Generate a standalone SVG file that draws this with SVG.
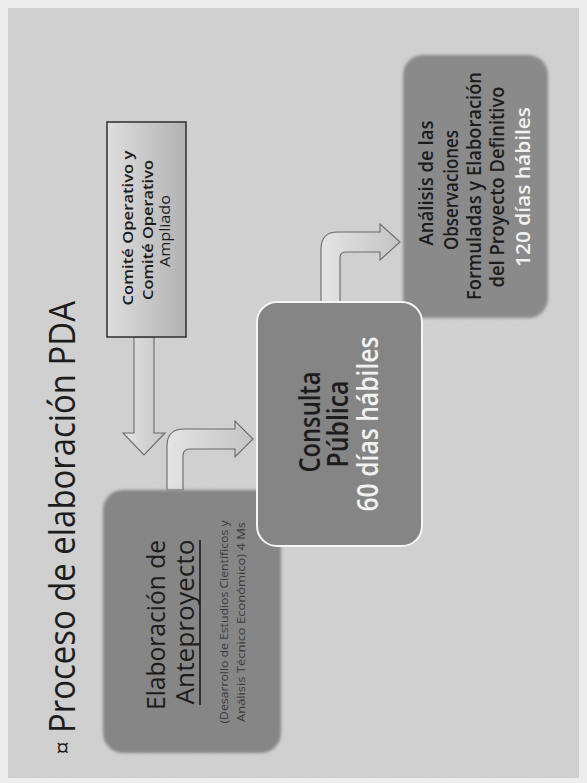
<svg xmlns="http://www.w3.org/2000/svg" width="587" height="783" viewBox="0 0 587 783">
  <defs>
    <linearGradient id="gCom" x1="0" y1="0" x2="1" y2="0">
      <stop offset="0" stop-color="#dedede"/>
      <stop offset="1" stop-color="#b2b2b2"/>
    </linearGradient>
    <linearGradient id="gArr" x1="0" y1="0" x2="1" y2="0">
      <stop offset="0" stop-color="#e4e4e4"/>
      <stop offset="1" stop-color="#c4c4c4"/>
    </linearGradient>
    <filter id="soft" x="-10%" y="-10%" width="120%" height="120%">
      <feGaussianBlur stdDeviation="1.6"/>
    </filter>
    <filter id="noise" x="0" y="0" width="100%" height="100%">
      <feTurbulence type="fractalNoise" baseFrequency="0.9" numOctaves="1" seed="3" result="t"/>
      <feColorMatrix in="t" type="matrix" values="0 0 0 0 0.5  0 0 0 0 0.5  0 0 0 0 0.5  0 0 0 0.12 0"/>
    </filter>
  </defs>
  <style>
    text { font-family: "Open Sans", "Liberation Sans", sans-serif; fill: #1c1c1c; text-anchor: middle; }
    .title { font-size: 36px; }
    .bul { font-size: 24px; }
    .com { font-size: 14px; font-weight: 600; }
    .big { font-size: 26px; }
    .small { font-size: 10px; fill: #3a3a3a; }
    .cp { font-size: 29px; font-weight: 600; }
    .an { font-size: 20px; font-weight: 600; }
    .wh { fill: #f2f2f2; }
    .arrow { fill: url(#gArr); stroke: #6a6a6a; stroke-width: 1.1; }
  </style>

  <rect x="0" y="0" width="587" height="783" fill="#ededed"/>
  <rect x="8" y="8" width="571" height="770" fill="#d1d1d1"/>
  <rect x="8" y="8" width="571" height="770" filter="url(#noise)"/>

  <g id="title">
    <text class="bul" x="-748" y="71" transform="rotate(-90)">¤</text>
    <text class="title" x="-517" y="75" textLength="432" lengthAdjust="spacingAndGlyphs" transform="rotate(-90)">Proceso de elaboración PDA</text>
  </g>

  <g id="connectors">
    <path class="arrow" d="M134,337 H154 V433 H165 L144,455 L123,433 H134 Z"/>
    <path class="arrow" d="M167,490 V446 Q167,429 184,429 H235 V421 L253,439 L235,457 V449 H190 Q183,449 183,456 V490 Z"/>
    <path class="arrow" d="M321,302 V249 Q321,232 338,232 H380 V224 L400,242 L380,260 V252 H346 Q340,252 340,258 V302 Z"/>
  </g>

  <g id="comite">
    <rect x="107" y="122" width="79" height="215" fill="url(#gCom)" stroke="#2e2e2e" stroke-width="1.5"/>
    <text class="com" x="-228" y="133" textLength="155" lengthAdjust="spacingAndGlyphs" transform="rotate(-90)">Comité Operativo y</text>
    <text class="com" x="-230" y="153" textLength="140" lengthAdjust="spacingAndGlyphs" transform="rotate(-90)">Comité Operativo</text>
    <text class="com" x="-231" y="170" textLength="72" lengthAdjust="spacingAndGlyphs" transform="rotate(-90)" style="font-weight:400">Ampliado</text>
  </g>

  <g id="elaboracion">
    <rect x="103" y="490" width="178" height="263" rx="20" fill="#868686" filter="url(#soft)"/>
    <text class="big" x="-625" y="165" textLength="170" lengthAdjust="spacingAndGlyphs" transform="rotate(-90)">Elaboración de</text>
    <text class="big" x="-622" y="194" textLength="165" lengthAdjust="spacingAndGlyphs" transform="rotate(-90)">Anteproyecto</text>
    <line x1="200" y1="540" x2="200" y2="705" stroke="#1c1c1c" stroke-width="1.6"/>
    <text class="small" x="-622" y="228" textLength="203" lengthAdjust="spacingAndGlyphs" transform="rotate(-90)">(Desarrollo de Estudios Científicos y</text>
    <text class="small" x="-622" y="245" textLength="200" lengthAdjust="spacingAndGlyphs" transform="rotate(-90)">Análisis Técnico Económico) 4 Ms</text>
  </g>

  <g id="analisis">
    <rect x="403" y="55" width="145" height="263" rx="20" fill="#8a8a8a" filter="url(#soft)"/>
    <text class="an" x="-183" y="433" textLength="125" lengthAdjust="spacingAndGlyphs" transform="rotate(-90)">Análisis de las</text>
    <text class="an" x="-190" y="458" textLength="120" lengthAdjust="spacingAndGlyphs" transform="rotate(-90)">Observaciones</text>
    <text class="an" x="-186" y="481" textLength="228" lengthAdjust="spacingAndGlyphs" transform="rotate(-90)">Formuladas y Elaboración</text>
    <text class="an" x="-187" y="504" textLength="201" lengthAdjust="spacingAndGlyphs" transform="rotate(-90)">del Proyecto Definitivo</text>
    <text class="an wh" x="-187" y="530" textLength="160" lengthAdjust="spacingAndGlyphs" transform="rotate(-90)">120 días hábiles</text>
  </g>

  <g id="consulta">
    <rect x="257" y="302" width="165" height="244" rx="20" fill="#858585" stroke="#f5f5f5" stroke-width="2"/>
    <text class="cp" x="-422" y="320" textLength="101" lengthAdjust="spacingAndGlyphs" transform="rotate(-90)">Consulta</text>
    <text class="cp" x="-424" y="348" textLength="87" lengthAdjust="spacingAndGlyphs" transform="rotate(-90)">Pública</text>
    <text class="cp wh" x="-424" y="378" textLength="175" lengthAdjust="spacingAndGlyphs" transform="rotate(-90)">60 días hábiles</text>
  </g>
</svg>
